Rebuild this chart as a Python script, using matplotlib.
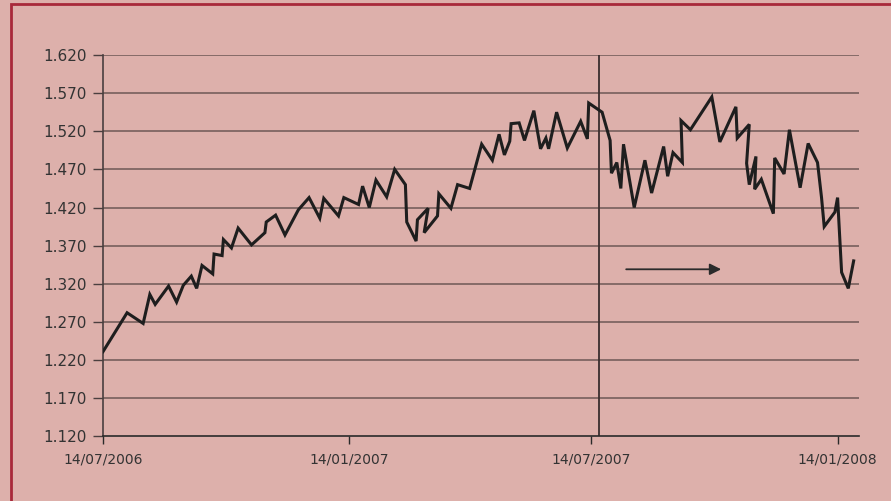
import numpy as np
import pandas as pd
import matplotlib
matplotlib.use("Agg")
import matplotlib.pyplot as plt
import matplotlib.dates as mdates
from matplotlib.patches import Rectangle

# EUR/USD-style series
dates = [
    "2006-07-14", "2006-08-01", "2006-08-13", "2006-08-18", "2006-08-22",
    "2006-09-01", "2006-09-07", "2006-09-12", "2006-09-18", "2006-09-22",
    "2006-09-26", "2006-10-04", "2006-10-05", "2006-10-11", "2006-10-12",
    "2006-10-18", "2006-10-23", "2006-11-02", "2006-11-12", "2006-11-13",
    "2006-11-20", "2006-11-27", "2006-12-07", "2006-12-15", "2006-12-23",
    "2006-12-26", "2007-01-06", "2007-01-10", "2007-01-21", "2007-01-24",
    "2007-01-29", "2007-02-03", "2007-02-11", "2007-02-17", "2007-02-25",
    "2007-02-26", "2007-03-05", "2007-03-06", "2007-03-14", "2007-03-11",
    "2007-03-21", "2007-03-22", "2007-03-31", "2007-04-05", "2007-04-14",
    "2007-04-23", "2007-05-01", "2007-05-06", "2007-05-10", "2007-05-14",
    "2007-05-15", "2007-05-21", "2007-05-25", "2007-06-01", "2007-06-06",
    "2007-06-10", "2007-06-12", "2007-06-18", "2007-06-26", "2007-07-06",
    "2007-07-11", "2007-07-12", "2007-07-22", "2007-07-28", "2007-07-29",
    "2007-08-02", "2007-08-05", "2007-08-07", "2007-08-15", "2007-08-23",
    "2007-08-28", "2007-09-06", "2007-09-09", "2007-09-13", "2007-09-20",
    "2007-09-19", "2007-09-26", "2007-10-12", "2007-10-18", "2007-10-30",
    "2007-10-31", "2007-11-09", "2007-11-07", "2007-11-09", "2007-11-14",
    "2007-11-13", "2007-11-18", "2007-11-27", "2007-11-28", "2007-12-05",
    "2007-12-09", "2007-12-17", "2007-12-23", "2007-12-30", "2008-01-02",
    "2008-01-04", "2008-01-12", "2008-01-14", "2008-01-17", "2008-01-22",
    "2008-01-26",
]
values = [
    1.231, 1.282, 1.268, 1.306, 1.293,
    1.317, 1.296, 1.318, 1.330, 1.314,
    1.344, 1.333, 1.359, 1.357, 1.378,
    1.367, 1.393, 1.371, 1.387, 1.401,
    1.410, 1.384, 1.417, 1.433, 1.406,
    1.432, 1.409, 1.433, 1.424, 1.448,
    1.420, 1.456, 1.434, 1.470, 1.450,
    1.401, 1.376, 1.404, 1.419, 1.387,
    1.409, 1.438, 1.419, 1.450, 1.445,
    1.503, 1.482, 1.516, 1.489, 1.507,
    1.530, 1.531, 1.508, 1.547, 1.497,
    1.511, 1.497, 1.545, 1.498, 1.533,
    1.510, 1.557, 1.545, 1.508, 1.465,
    1.479, 1.445, 1.503, 1.420, 1.482,
    1.439, 1.500, 1.461, 1.492, 1.479,
    1.534, 1.522, 1.565, 1.506, 1.552,
    1.511, 1.529, 1.478, 1.450, 1.487,
    1.444, 1.457, 1.412, 1.485, 1.464,
    1.522, 1.446, 1.504, 1.479, 1.433,
    1.395, 1.414, 1.433, 1.335, 1.314,
    1.350,
]

tick_dates = ["2006-07-14", "2007-01-14", "2007-07-14", "2008-01-14"]
tick_labels = ["14/07/2006", "14/01/2007", "14/07/2007", "14/01/2008"]
y_ticks = [1.120, 1.170, 1.220, 1.270, 1.320, 1.370, 1.420, 1.470, 1.520, 1.570, 1.620]
marker_date = "2007-07-20"
arrow_start, arrow_end, arrow_level = "2007-08-09", "2007-10-19", 1.339

bg = "#ddb0ab"
ink = "#333333"

x = pd.to_datetime(dates)

fig = plt.figure(figsize=(8.91, 5.01), dpi=100, facecolor=bg)
ax = fig.add_axes([103 / 891, 1 - 436.3 / 501, (859 - 103) / 891, (436.3 - 55) / 501])
ax.set_facecolor(bg)

# frame round the picture (only top and left edges visible)
fig.patches.append(Rectangle((11 / 891, -0.05), 1.1, 1 - 4 / 501 + 0.05,
                             transform=fig.transFigure, fill=False,
                             edgecolor="#a8293a", linewidth=2))

ax.set_ylim(1.12, 1.62)
ax.set_xlim(pd.Timestamp("2006-07-14"), pd.Timestamp("2008-01-30"))
ax.set_yticks(y_ticks)
ax.set_yticklabels([f"{v:.3f}" for v in y_ticks])
ax.set_xticks(pd.to_datetime(tick_dates))
ax.set_xticklabels(tick_labels)

for v in y_ticks[1:]:
    ax.axhline(v, color="#6d5855", linewidth=1.1, zorder=1)

ax.axvline(pd.Timestamp(marker_date), color="#3a2e2e", linewidth=1.3, zorder=2)

ax.plot(x, values, color="#1e1e1e", linewidth=2.2, zorder=3, solid_joinstyle="miter")

ax.annotate("", xy=(pd.Timestamp(arrow_end), arrow_level),
            xytext=(pd.Timestamp(arrow_start), arrow_level),
            arrowprops=dict(arrowstyle="-|>", color="#2b2b2b", lw=1.3,
                            mutation_scale=17, shrinkA=0, shrinkB=0))

for s in ["top", "right"]:
    ax.spines[s].set_visible(False)
ax.spines["left"].set_color("#4a3f3f")
ax.spines["bottom"].set_color("#2a2a2a")
ax.spines["left"].set_linewidth(1.2)
ax.spines["bottom"].set_linewidth(1.2)

ax.tick_params(axis="y", length=7, width=1, color="#4a3f3f", pad=5,
               labelsize=11, labelcolor=ink)
ax.tick_params(axis="x", length=6, width=1, color="#2a2a2a", pad=6,
               labelsize=10, labelcolor=ink)

fig.savefig("out.png", dpi=100, facecolor=bg)
